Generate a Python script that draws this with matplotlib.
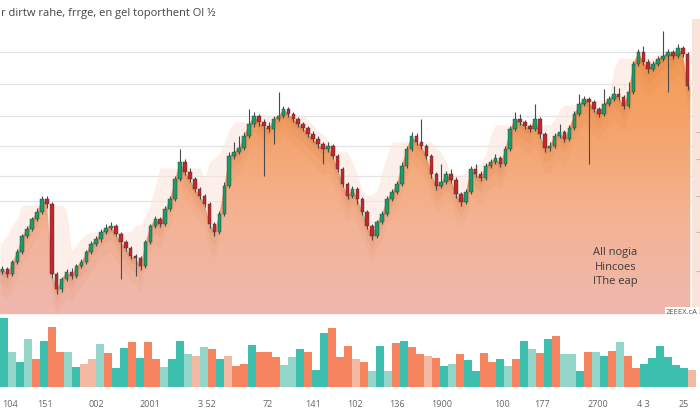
import numpy as np
import pandas as pd
import matplotlib
matplotlib.use("Agg")
import matplotlib.pyplot as plt
from matplotlib.colors import LinearSegmentedColormap
from matplotlib.patches import Polygon

plt.rcParams['font.family'] = ['Open Sans', 'DejaVu Sans']

title = "r dirtw rahe, frrge, en gel toporthent Ol \u00bd"
note_lines = ["All nogia", "Hincoes", "IThe eap"]
corner_tag = "2EEEX.cA"

# price candles (arbitrary units)
first_open = 42
closes = [45, 40, 52, 62, 78, 85, 95, 102, 115, 110,
          40, 25, 35, 42, 38, 48, 52, 62, 70, 75,
          82, 86, 88, 80, 72, 66, 58, 56, 48, 72,
          88, 95, 90, 105, 115, 135, 152, 142, 135, 125,
          118, 110, 90, 82, 100, 128, 158, 162, 166, 178,
          190, 198, 192, 188, 185, 195, 198, 205, 200, 195,
          190, 186, 180, 175, 170, 165, 168, 158, 145, 130,
          118, 125, 115, 102, 88, 78, 92, 100, 115, 122,
          130, 148, 165, 178, 172, 168, 158, 140, 128, 132,
          140, 134, 120, 112, 122, 145, 140, 136, 148, 152,
          156, 150, 165, 185, 195, 192, 188, 185, 195, 180,
          166, 168, 178, 182, 175, 186, 200, 210, 215, 212,
          205, 200, 210, 215, 220, 217, 208, 222, 250, 262,
          252, 245, 250, 255, 258, 262, 258, 266, 260, 228]
highs = [48, 47, 54, 65, 80, 88, 97, 106, 118, 118,
         112, 42, 37, 45, 46, 50, 55, 64, 73, 78,
         85, 90, 92, 90, 82, 74, 68, 60, 58, 74,
         90, 98, 97, 108, 118, 138, 165, 155, 146, 137,
         127, 120, 112, 92, 103, 132, 162, 172, 178, 182,
         205, 202, 200, 195, 192, 198, 222, 208, 207, 202,
         197, 192, 188, 183, 178, 172, 172, 170, 160, 147,
         132, 128, 127, 117, 104, 90, 94, 103, 118, 125,
         133, 152, 168, 182, 181, 195, 170, 160, 142, 150,
         143, 145, 137, 122, 125, 148, 150, 143, 151, 155,
         160, 158, 168, 188, 202, 200, 194, 190, 210, 197,
         182, 172, 181, 190, 184, 189, 203, 220, 218, 217,
         214, 207, 225, 218, 228, 226, 219, 232, 253, 265,
         268, 255, 253, 258, 283, 265, 264, 270, 268, 262]
lows = [40, 37, 38, 50, 60, 76, 83, 93, 100, 106,
        36, 20, 22, 33, 35, 36, 46, 50, 60, 68,
        72, 80, 84, 78, 35, 63, 55, 38, 44, 46,
        70, 86, 87, 88, 103, 113, 133, 139, 132, 122,
        115, 107, 86, 78, 80, 98, 126, 155, 160, 164,
        176, 187, 188, 138, 182, 170, 193, 196, 197, 192,
        187, 183, 177, 172, 166, 150, 162, 155, 142, 127,
        115, 116, 110, 99, 85, 74, 76, 90, 98, 113,
        120, 128, 146, 163, 169, 165, 155, 136, 124, 126,
        130, 131, 116, 108, 110, 120, 137, 133, 134, 146,
        150, 147, 148, 163, 183, 189, 185, 182, 183, 176,
        162, 163, 166, 176, 172, 173, 184, 198, 208, 150,
        202, 197, 198, 208, 213, 214, 205, 206, 220, 248,
        249, 241, 243, 248, 253, 222, 255, 256, 257, 224]

# volume bars: T teal, t light teal, S salmon, s pale salmon
vol_heights = [69, 35, 25, 48, 28, 46, 60, 35, 35, 20,
               23, 28, 43, 34, 19, 39, 45, 29, 45, 28,
               20, 28, 46, 33, 31, 40, 38, 28, 31, 21,
               23, 42, 35, 35, 30, 22, 30, 38, 35, 17,
               54, 59, 30, 41, 28, 25, 16, 41, 16, 44,
               46, 40, 33, 31, 29, 21, 23, 33, 27, 16,
               34, 25, 28, 21, 28, 46, 38, 34, 48, 51,
               33, 33, 16, 35, 35, 31, 36, 45, 31, 19,
               23, 29, 41, 30, 22, 19, 17]
vol_kinds = list("TtTtSTSStT" "sstSTTSTSS" "tTTtstSTsS"
                 "STSSSttTST" "TSSSsStTtS" "TSSsSTtSTT"
                 "SSTtSTtSTS" "ttTStTStSS" "TTTTTTs")

tick_labels = ["104", "151", "002", "2001", "3 52", "72", "141", "102",
               "136", "1900", "100", "177", "2700", "4 3", "25"]
tick_slots = [0.75, 5.1, 11.6, 18.25, 25.4, 32.9, 38.6, 43.9,
              49.1, 54.75, 62.25, 67.25, 74.25, 79.9, 84.9]

opens = [first_open] + closes[:-1]
x = np.arange(len(closes))

fig = plt.figure(figsize=(7, 4.1), dpi=100)
ax = fig.add_axes([0, 0.2317, 1, 0.7195])
axv = fig.add_axes([0, 0.0537, 1, 0.1707])

ax.set_xlim(-0.507, 141.5)
ax.set_ylim(0, 295)

# grid lines sit behind the fills
for gy in [113, 138, 168, 198, 230, 262]:
    ax.axhline(gy, color='#e3e3e3', lw=0.9, zorder=0)

# faint lagging band behind the main area
ghost = pd.Series(closes).rolling(9, center=True, min_periods=1).max()
gx = np.concatenate([[-0.5], x, [139.5]])
gy_ = np.concatenate([[ghost.iloc[0]], ghost.values, [ghost.iloc[-1]]])
ax.fill_between(gx, 0, gy_ - 6, color='#fbe3d8', alpha=0.55, lw=0, zorder=0.5)

# gradient area under the closes
ax_x = np.concatenate([[-0.5], x, [139.5]])
ax_y = np.concatenate([[closes[0]], closes, [closes[-1]]])
verts = list(zip(ax_x, ax_y)) + [(139.5, 0), (-0.5, 0)]
poly = Polygon(verts, closed=True, facecolor='none', edgecolor='none')
ax.add_patch(poly)
cmap = LinearSegmentedColormap.from_list(
    'warm', ['#efb8ae', '#f4b394', '#f5a36a', '#f39a50'])
grad = np.linspace(0, 1, 256).reshape(-1, 1)
im = ax.imshow(grad, extent=[-0.5, 139.5, 0, 280], origin='lower',
               aspect='auto', cmap=cmap, zorder=1)
im.set_clip_path(poly)

# soft shadow under the candles
for d, a in [(6, 0.15), (14, 0.09), (26, 0.05)]:
    ax.fill_between(ax_x, ax_y - d, ax_y, color='#c9652f', alpha=a, lw=0, zorder=1.5)

# candles
up = np.array(closes) >= np.array(opens)
colors = np.where(up, '#1c9a68', '#c3262c')
ax.vlines(x, lows, highs, color='#4a4a4a', lw=0.8, zorder=2.5)
bottoms = np.minimum(opens, closes)
heights = np.maximum(np.abs(np.array(closes) - np.array(opens)), 1.5)
ax.bar(x, heights, bottom=bottoms, width=0.72, color=colors,
       edgecolor='#2f3a33', linewidth=0.3, zorder=3)

# right-hand strip with little ticks
ax.axvspan(139.9, 141.5, color='#f8e4da', lw=0, zorder=0.8)
ax.yaxis.tick_right()
ax.set_yticks([182, 155, 118, 82, 43])
ax.set_yticklabels([])
ax.tick_params(axis='y', direction='in', length=3, color='#b9b9b9', pad=0)
ax.set_xticks([])
for s in ax.spines.values():
    s.set_visible(False)

for i, line in enumerate(note_lines):
    fig.text(0.879, 0.383 - i * 0.035, line, ha='center', va='center',
             fontsize=8, color='#3a3a3a')
fig.text(0.997, 0.2366, corner_tag, ha='right', va='center', fontsize=5.5,
         color='#555555',
         bbox=dict(boxstyle='square,pad=0.15', fc='white', ec='none'))

fig.text(0.002, 0.968, title, ha='left', va='center', fontsize=8, color='#444444')

# volume
palette = {'T': '#3dbfae', 't': '#93d6c9', 'S': '#f6845f', 's': '#f3b8a2'}
vx = np.arange(len(vol_heights))
axv.bar(vx, vol_heights, width=0.96, color=[palette[k] for k in vol_kinds], lw=0)
axv.set_xlim(-0.5, 87.0)
axv.set_ylim(0, 70)
axv.set_yticks([])
axv.set_xticks(tick_slots)
axv.set_xticklabels(tick_labels)
axv.tick_params(axis='x', length=0, pad=9, labelsize=6.5, labelcolor='#666666')
for s in axv.spines.values():
    s.set_visible(False)

fig.savefig('out.png', dpi=100)
